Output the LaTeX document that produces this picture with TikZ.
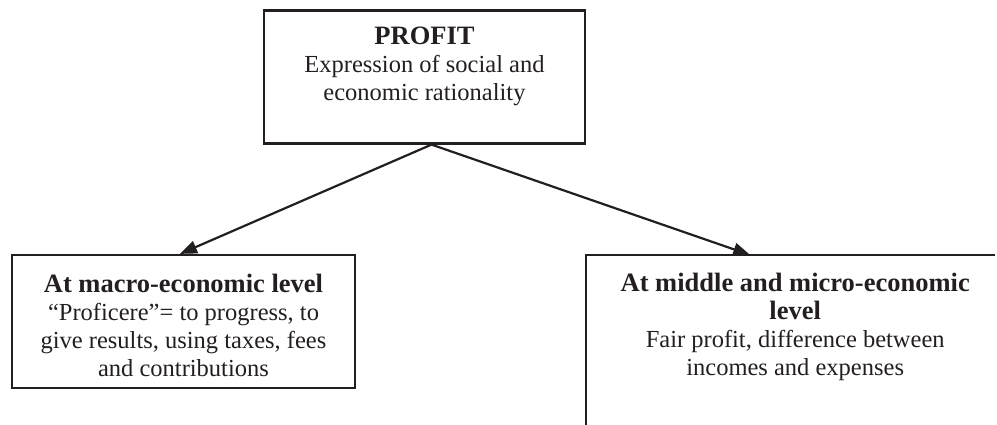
\documentclass[tikz,border=0pt]{standalone}
\usepackage{fontspec}
\setmainfont{Liberation Serif}
\usetikzlibrary{arrows.meta}
\definecolor{ink}{RGB}{35,31,32}
\begin{document}
\begin{tikzpicture}[x=1pt,y=-1pt,
  boxline/.style={draw=ink, line width=2.2pt},
  box/.style={boxline, rectangle, inner sep=0pt},
  txt/.style={inner sep=0pt, align=center, text=ink, font=\fontsize{24.5}{28}\selectfont},
  arr/.style={draw=ink, line width=2.2pt, -{Triangle[length=17pt,width=13pt]}}]
\useasboundingbox (0,0) rectangle (997,425);
% top box
\node[box, minimum width=321pt, minimum height=133pt] (top) at (424.5,77) {};
\node[txt, anchor=north] (toptext) at ([yshift=-17pt]top.north)
  {{\fontsize{26.5}{28}\selectfont\bfseries PROFIT}\\Expression of social and\\economic rationality};
% left box
\node[box, minimum width=343pt, minimum height=133pt] (left) at (183.5,321.5) {};
\node[txt, anchor=north] (lefttext) at ([yshift=-20pt]left.north)
  {{\fontsize{26.5}{28}\selectfont\bfseries At macro-economic level}\\``Proficere''= to progress, to\\give results, using taxes, fees\\and contributions};
% right box (open on the right and bottom)
\node[inner sep=0pt, minimum width=418pt, minimum height=170pt, anchor=north west] (right) at (586,255) {};
\draw[boxline] (right.south west) -- (right.north west) -- ([xshift=-9pt]right.north east);
\node[txt, anchor=north] (righttext) at ([yshift=-18pt]right.north)
  {{\fontsize{26.5}{30}\selectfont\bfseries At middle and micro-economic}\\{\fontsize{26.5}{30}\selectfont\bfseries level}\\Fair profit, difference between\\incomes and expenses};
% arrows
\draw[arr] ([xshift=7pt]top.south) -- ([xshift=-3.5pt]left.north);
\draw[arr] ([xshift=7pt]top.south) -- ([xshift=-45pt]right.north);
\end{tikzpicture}
\end{document}
